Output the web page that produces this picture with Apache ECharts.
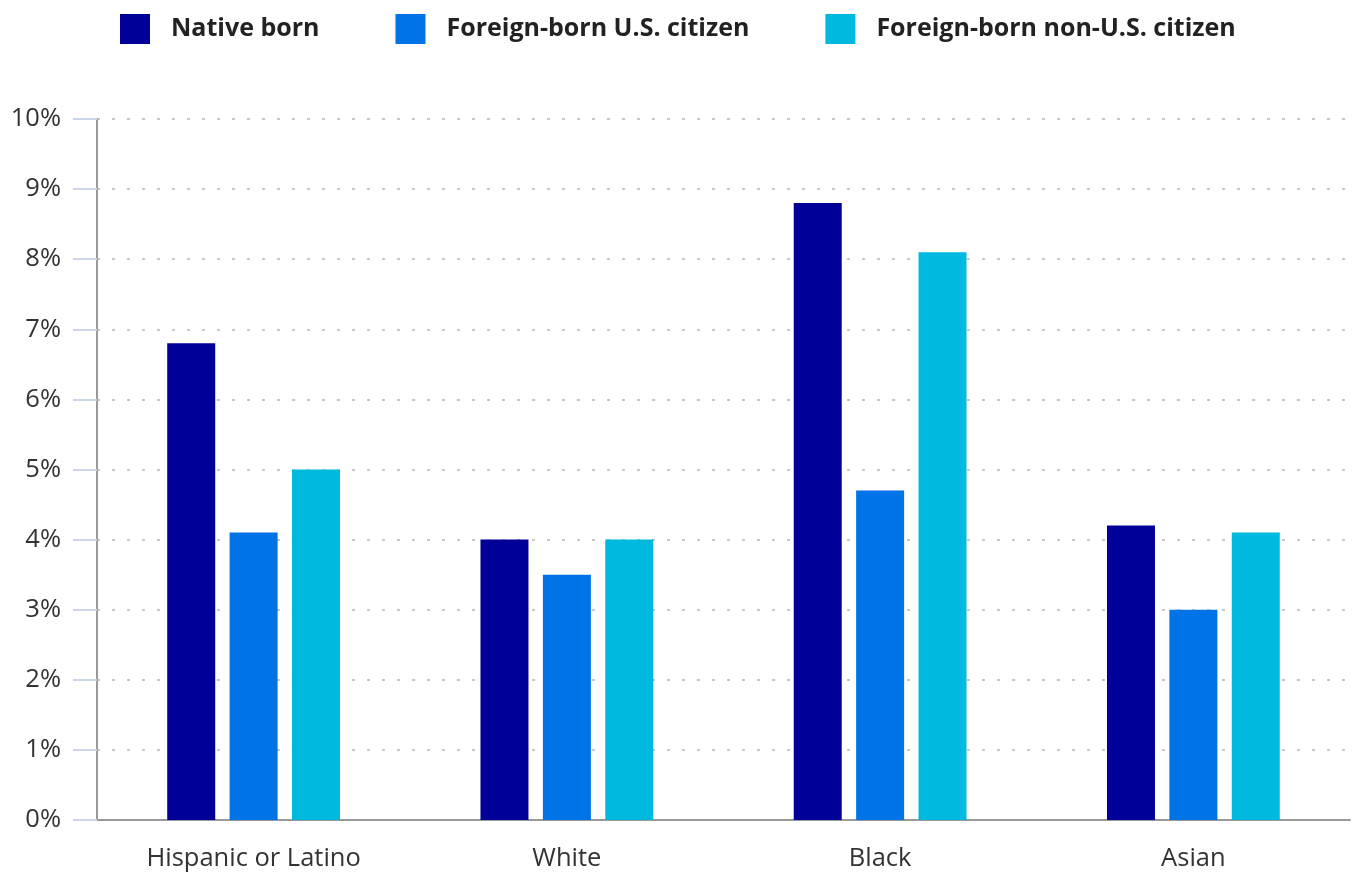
<!DOCTYPE html>
<html><head><meta charset="utf-8">
<script src="https://cdn.jsdelivr.net/npm/echarts@6/dist/echarts.min.js"></script>
<style>html,body{margin:0;padding:0;background:#fff}#c{width:1355px;height:873px}</style>
</head><body><div id="c"></div>
<script>
const categories = ['Hispanic or Latino', 'White', 'Black', 'Asian'];
const seriesNames = ['Native born', 'Foreign-born U.S. citizen', 'Foreign-born non-U.S. citizen'];
const nativeBorn = [6.8, 4.0, 8.8, 4.2];
const foreignCitizen = [4.1, 3.5, 4.7, 3.0];
const foreignNonCitizen = [5.0, 4.0, 8.1, 4.1];
const colors = ['#000099', '#0073e6', '#00b9df'];
const FONT = '"Open Sans", "Liberation Sans", sans-serif';

const chart = echarts.init(document.getElementById('c'), null, {renderer: 'canvas'});
const mk = (name, data, i) => ({
  name, type: 'bar', data, barWidth: 48, barGap: '30%',
  itemStyle: {color: colors[i]}
});
chart.setOption({
  animation: false,
  textStyle: {fontFamily: FONT},
  legend: {
    left: 115, top: 9, itemWidth: 30, itemHeight: 30, itemGap: 76,
    icon: 'rect',
    textStyle: {fontSize: 25, fontWeight: 'bold', color: '#222', fontFamily: FONT, padding: [0, 0, 0, 16]},
    data: seriesNames
  },
  grid: {left: 97, right: 5, top: 119, bottom: 53, containLabel: false},
  xAxis: {
    type: 'category', data: categories,
    axisLine: {lineStyle: {color: '#999', width: 2}},
    axisTick: {alignWithLabel: true, length: 20, lineStyle: {color: '#ccd6eb', width: 2}},
    axisLabel: {fontSize: 25.5, color: '#333', margin: 26, fontFamily: FONT}
  },
  yAxis: {
    type: 'value', min: 0, max: 10, interval: 1,
    axisLine: {show: true, lineStyle: {color: '#999', width: 2}},
    axisTick: {show: true, length: 24, lineStyle: {color: '#ccd6eb', width: 2}},
    axisLabel: {fontSize: 25.5, color: '#333', margin: 36, formatter: '{value}%', fontFamily: FONT},
    splitLine: {lineStyle: {color: '#c8c8c8', width: 2, type: [3, 12]}}
  },
  series: [mk(seriesNames[0], nativeBorn, 0), mk(seriesNames[1], foreignCitizen, 1), mk(seriesNames[2], foreignNonCitizen, 2)]
});
</script></body></html>
